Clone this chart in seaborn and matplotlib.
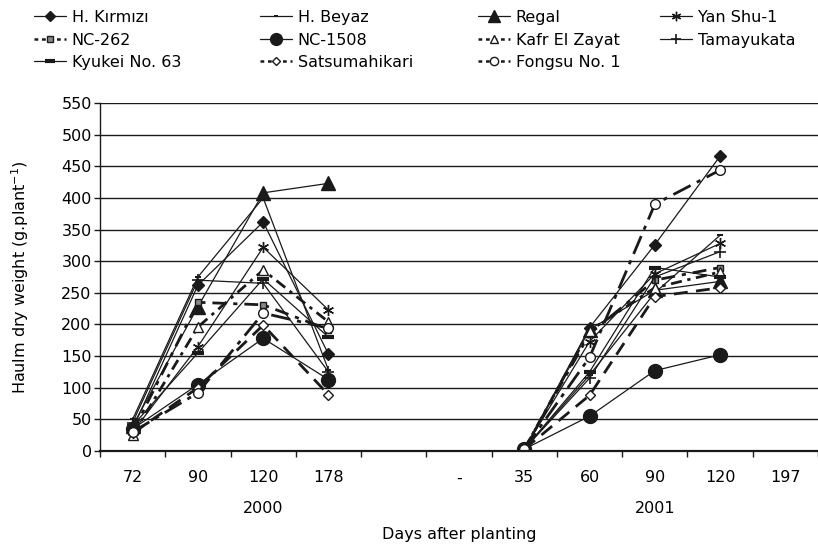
import matplotlib
matplotlib.use("Agg")
import matplotlib.pyplot as plt
import seaborn as sns
import numpy as np
from matplotlib.lines import Line2D
from matplotlib.ticker import FixedLocator, MultipleLocator

sns.set_theme(style="white")
plt.rcParams['font.family'] = ['DejaVu Sans']
plt.rcParams['text.color'] = 'black'
plt.rcParams['axes.labelcolor'] = 'black'
plt.rcParams['xtick.color'] = 'black'
plt.rcParams['ytick.color'] = 'black'

# ---- data ----
categories = ["72", "90", "120", "178", "", "-", "35", "60", "90", "120", "197"]
pos_2000 = [0, 1, 2, 3]
pos_2001 = [6, 7, 8, 9]
year_labels = ["2000", "2001"]

varieties = ["H. Kırmızı", "H. Beyaz", "Regal", "Yan Shu-1", "NC-262", "NC-1508",
             "Kafr El Zayat", "Tamayukata", "Kyukei No. 63", "Satsumahikari", "Fongsu No. 1"]

y2000_h_kirmizi = [35, 262, 362, 153]
y2000_h_beyaz = [50, 275, 400, 128]
y2000_regal = [40, 228, 408, 423]
y2000_yan_shu = [30, 165, 322, 223]
y2000_nc262 = [30, 235, 231, 192]
y2000_nc1508 = [35, 105, 178, 113]
y2000_kafr = [25, 196, 286, 204]
y2000_tamayukata = [45, 270, 265, 125]
y2000_kyukei = [40, 155, 272, 180]
y2000_satsuma = [28, 100, 199, 89]
y2000_fongsu = [30, 92, 218, 194]

y2001_h_kirmizi = [3, 195, 326, 466]
y2001_h_beyaz = [3, 120, 250, 341]
y2001_regal = [0, 192, 254, 268]
y2001_yan_shu = [3, 173, 280, 328]
y2001_nc262 = [3, 185, 270, 290]
y2001_nc1508 = [3, 55, 127, 152]
y2001_kafr = [3, 190, 258, 283]
y2001_tamayukata = [3, 115, 275, 315]
y2001_kyukei = [3, 125, 290, 275]
y2001_satsuma = [3, 88, 244, 258]
y2001_fongsu = [3, 148, 390, 444]

data2000 = [y2000_h_kirmizi, y2000_h_beyaz, y2000_regal, y2000_yan_shu, y2000_nc262,
            y2000_nc1508, y2000_kafr, y2000_tamayukata, y2000_kyukei, y2000_satsuma, y2000_fongsu]
data2001 = [y2001_h_kirmizi, y2001_h_beyaz, y2001_regal, y2001_yan_shu, y2001_nc262,
            y2001_nc1508, y2001_kafr, y2001_tamayukata, y2001_kyukei, y2001_satsuma, y2001_fongsu]

# ---- styles ----
styles = {
    "H. Kırmızı":    dict(marker="D", ms=6, mfc="k", mec="k", ls="-", lw=0.9, mew=1),
    "H. Beyaz":      dict(marker="_", ms=4, mfc="k", mec="k", ls="-", lw=0.9, mew=1.5),
    "Regal":         dict(marker="^", ms=10, mfc="k", mec="k", ls="-", lw=0.9, mew=1),
    "Yan Shu-1":     dict(marker=(6, 2, 0), ms=8, mfc="k", mec="k", ls="-", lw=0.9, mew=1),
    "NC-262":        dict(marker="s", ms=5, mfc="#888888", mec="k", ls=(0, (5, 2.5, 1.5, 2.5)), lw=2.0, mew=1),
    "NC-1508":       dict(marker="o", ms=10, mfc="k", mec="k", ls="-", lw=0.9, mew=1),
    "Kafr El Zayat": dict(marker="^", ms=7, mfc="white", mec="k", ls=(0, (4, 2, 1.2, 2)), lw=2.0, mew=1),
    "Tamayukata":    dict(marker="+", ms=9, mfc="k", mec="k", ls="-", lw=0.9, mew=1.2),
    "Kyukei No. 63": dict(marker="_", ms=9, mfc="k", mec="k", ls="-", lw=0.9, mew=3),
    "Satsumahikari": dict(marker="D", ms=5, mfc="white", mec="k", ls=(0, (5, 3)), lw=2.0, mew=1),
    "Fongsu No. 1":  dict(marker="o", ms=7, mfc="white", mec="k", ls=(0, (7, 2.5, 1.5, 2.5)), lw=2.0, mew=1),
}

fig = plt.figure(figsize=(8.18, 5.48), dpi=100)
ax = fig.add_axes([100 / 818, 1 - 451 / 548, 718 / 818, 348 / 548])

for name, v0, v1 in zip(varieties, data2000, data2001):
    st = styles[name]
    for xs, ys in ((pos_2000, v0), (pos_2001, v1)):
        sns.lineplot(x=xs, y=ys, ax=ax, color="k", sort=False, estimator=None,
                     marker=st["marker"], markersize=st["ms"], markerfacecolor=st["mfc"],
                     markeredgecolor=st["mec"], markeredgewidth=st["mew"],
                     linestyle=st["ls"], linewidth=st["lw"], legend=False)

ax.set_xlim(-0.5, 10.5)
ax.set_ylim(0, 550)
ax.yaxis.set_major_locator(MultipleLocator(50))
ax.grid(axis="y", color="k", lw=1.0)
ax.grid(axis="x", visible=False)
ax.set_axisbelow(True)

ax.set_xticks(range(len(categories)))
ax.set_xticklabels(categories, fontsize=11.5)
ax.xaxis.set_minor_locator(FixedLocator(np.arange(-0.5, 10.6, 0.5)))
ax.tick_params(axis="x", which="major", length=0, pad=14)
ax.tick_params(axis="x", which="minor", length=4, width=1, direction="out", color="k", bottom=True)
ax.tick_params(axis="y", which="major", length=4, width=1, direction="out", color="k", left=True, labelsize=11.5, pad=2)

for side in ["top", "right"]:
    ax.spines[side].set_visible(False)
ax.spines["left"].set_color("k")
ax.spines["left"].set_linewidth(1.0)
ax.spines["bottom"].set_color("k")
ax.spines["bottom"].set_linewidth(1.6)

ax.text(2, -0.165, year_labels[0], transform=ax.get_xaxis_transform(), ha="center", va="center", fontsize=11.5)
ax.text(8, -0.165, year_labels[1], transform=ax.get_xaxis_transform(), ha="center", va="center", fontsize=11.5)
ax.set_xlabel("Days after planting", fontsize=11.5, labelpad=30)
ax.set_ylabel("Haulm dry weight (g.plant$^{-1}$)", fontsize=11.5, labelpad=22)

# legend: four columns placed like the reference
columns = [["H. Kırmızı", "NC-262", "Kyukei No. 63"],
           ["H. Beyaz", "NC-1508", "Satsumahikari"],
           ["Regal", "Kafr El Zayat", "Fongsu No. 1"],
           ["Yan Shu-1", "Tamayukata"]]
col_x = [34, 260, 478, 660]


def make_handle(name):
    st = styles[name]
    dashed = st["lw"] >= 1.5
    return Line2D([], [], color="k", marker=st["marker"], markersize=st["ms"] * 0.85,
                  markerfacecolor=st["mfc"], markeredgecolor=st["mec"],
                  markeredgewidth=st["mew"],
                  linestyle=(0, (1.5, 1.5)) if dashed else st["ls"],
                  linewidth=1.8 if dashed else st["lw"])


for names, x in zip(columns, col_x):
    leg = fig.legend([make_handle(n) for n in names], names, ncol=1, loc="upper left",
                     bbox_to_anchor=(x / 818, 1 - 10 / 548), frameon=False, fontsize=11.5,
                     handlelength=2.0, handletextpad=0.35, labelspacing=0.47,
                     borderpad=0, borderaxespad=0)

fig.savefig("out.png", dpi=100)
